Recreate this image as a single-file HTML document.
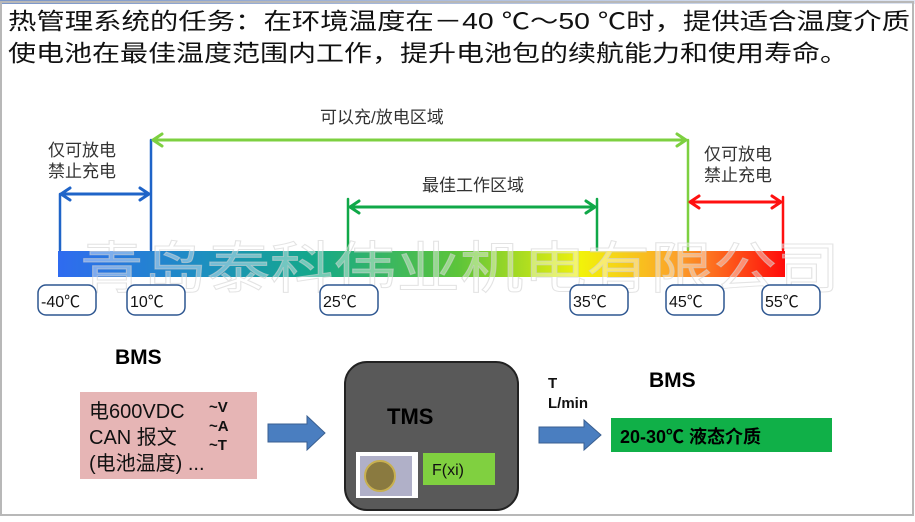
<!DOCTYPE html>
<html><head><meta charset="utf-8">
<style>
html,body{margin:0;padding:0;background:#fff;}
body{width:915px;height:517px;overflow:hidden;}
text{font-family:"Liberation Sans","Noto Sans CJK SC",sans-serif;}
</style></head><body>
<svg width="915" height="517" viewBox="0 0 915 517" xmlns="http://www.w3.org/2000/svg">
<defs>
<linearGradient id="bar" x1="0" x2="1" y1="0" y2="0">
<stop offset="0" stop-color="#2f6bf0"/>
<stop offset="0.2" stop-color="#1d8fc0"/>
<stop offset="0.35" stop-color="#14a88a"/>
<stop offset="0.55" stop-color="#5cc43a"/>
<stop offset="0.72" stop-color="#f2f20a"/>
<stop offset="0.85" stop-color="#fca22a"/>
<stop offset="1" stop-color="#ff0a0a"/>
</linearGradient>
<linearGradient id="top" x1="0" x2="1"><stop offset="0" stop-color="#7a95c8"/><stop offset="1" stop-color="#dfe6f3"/></linearGradient>
</defs>
<rect x="0" y="0" width="915" height="4" fill="url(#top)"/>
<rect x="1" y="2" width="912" height="513" fill="none" stroke="#b8b8b8" stroke-width="2"/>
<text x="8" y="29" font-size="23" fill="#111" textLength="902" lengthAdjust="spacingAndGlyphs">热管理系统的任务：在环境温度在－40 ℃～50 ℃时，提供适合温度介质</text>
<text x="8" y="61" font-size="23" fill="#111" textLength="840" lengthAdjust="spacingAndGlyphs">使电池在最佳温度范围内工作，提升电池包的续航能力和使用寿命。</text>

<rect x="58" y="251" width="727" height="26" fill="url(#bar)"/>

<g fill="none" stroke-width="3" stroke-linecap="round" stroke-linejoin="round">
<path d="M60 250V194M151 250V140" stroke="#1f64c8" stroke-width="2.5"/>
<path d="M62 194H148M70 188L61 194L70 200M140 188L149 194L140 200" stroke="#1f64c8"/>
<path d="M153 140H686M162 134L153 140L162 146M677 134L686 140L677 146" stroke="#7dd040"/>
<path d="M688 250V140" stroke="#7dd040" stroke-width="2.5"/>
<path d="M348 250V199M597 250V199" stroke="#10a848" stroke-width="2.5"/>
<path d="M350 207H595M359 201L350 207L359 213M586 201L595 207L586 213" stroke="#10a848"/>
<path d="M783 250V197" stroke="#ff1010" stroke-width="2.5"/>
<path d="M690 202H781M699 196L690 202L699 208M772 196L781 202L772 208" stroke="#ff1010"/>
</g>

<text x="48" y="156" font-size="17" fill="#333">仅可放电</text>
<text x="48" y="177" font-size="17" fill="#333">禁止充电</text>
<text x="704" y="160" font-size="17" fill="#333">仅可放电</text>
<text x="704" y="181" font-size="17" fill="#333">禁止充电</text>
<text x="320" y="123" font-size="17" fill="#333">可以充/放电区域</text>
<text x="422" y="191" font-size="17" fill="#333">最佳工作区域</text>

<text x="80" y="288" font-size="56" fill="#fff" fill-opacity="0.4" stroke="#d0d0d0" stroke-width="1" stroke-opacity="0.6" textLength="760" lengthAdjust="spacingAndGlyphs">青岛泰科伟业机电有限公司</text>

<g fill="#fff" stroke="#2d5690" stroke-width="1.5">
<rect x="38" y="285" width="58" height="30" rx="8"/>
<rect x="127" y="285" width="58" height="30" rx="8"/>
<rect x="320" y="285" width="58" height="30" rx="8"/>
<rect x="570" y="285" width="58" height="30" rx="8"/>
<rect x="666" y="285" width="58" height="30" rx="8"/>
<rect x="762" y="285" width="58" height="30" rx="8"/>
</g>
<g font-size="16" fill="#111">
<text x="41" y="307">-40℃</text>
<text x="130" y="307">10℃</text>
<text x="323" y="307">25℃</text>
<text x="573" y="307">35℃</text>
<text x="669" y="307">45℃</text>
<text x="765" y="307">55℃</text>
</g>

<text x="115" y="364" font-size="21" font-weight="bold" fill="#000">BMS</text>
<rect x="80" y="392" width="177" height="87" fill="#e6b5b5"/>
<text x="89" y="418" font-size="20" fill="#111">电600VDC</text>
<text x="89" y="444" font-size="20" fill="#111">CAN 报文</text>
<text x="89" y="470" font-size="20" fill="#111">(电池温度) ...</text>
<text x="209" y="412" font-size="15" font-weight="bold" fill="#111">~V</text>
<text x="209" y="431" font-size="15" font-weight="bold" fill="#111">~A</text>
<text x="209" y="450" font-size="15" font-weight="bold" fill="#111">~T</text>

<path d="M268 424H307V416L325 433L307 450V442H268Z" fill="#4a7ec0" stroke="#3a5f90"/>
<rect x="345" y="362" width="173" height="148" rx="22" fill="#595959" stroke="#222" stroke-width="2"/>
<text x="387" y="424" font-size="22" font-weight="bold" fill="#000">TMS</text>
<rect x="356" y="452" width="62" height="46" fill="#fff"/>
<rect x="360" y="456" width="52" height="40" fill="#b0b0c8"/>
<circle cx="380" cy="476" r="15" fill="#8a7a40" stroke="#c8b050" stroke-width="2"/>
<rect x="423" y="453" width="72" height="32" fill="#80d040"/>
<text x="432" y="475" font-size="16" fill="#111">F(xi)</text>

<text x="548" y="388" font-size="15" font-weight="bold" fill="#111">T</text>
<text x="548" y="408" font-size="15" font-weight="bold" fill="#111">L/min</text>
<path d="M539 427H584V420L601 435L584 450V443H539Z" fill="#4a7ec0" stroke="#3a5f90"/>
<text x="649" y="387" font-size="21" font-weight="bold" fill="#000">BMS</text>
<rect x="611" y="418" width="221" height="34" fill="#10b048"/>
<text x="620" y="443" font-size="18" font-weight="bold" fill="#000">20-30℃ 液态介质</text>
</svg>
</body></html>
